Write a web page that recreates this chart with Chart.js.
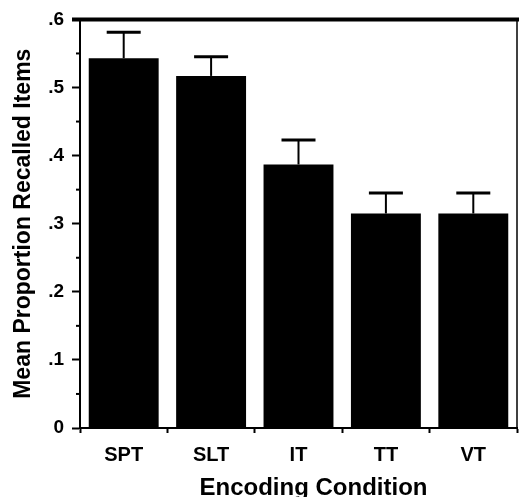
<!DOCTYPE html>
<html>
<head>
<meta charset="utf-8">
<script src="https://cdn.jsdelivr.net/npm/chart.js@4"></script>
<style>
  html, body { margin: 0; padding: 0; background: #fff; }
  #chart { display: block; }
</style>
</head>
<body>
<canvas id="chart" width="519" height="497"></canvas>
<script>
// datos
const conditions = ["SPT", "SLT", "IT", "TT", "VT"];
const meanRecall = [0.543, 0.517, 0.387, 0.315, 0.315];
const errorUp = [0.038, 0.028, 0.036, 0.030, 0.030];
const minorTicks = [0.05, 0.15, 0.25, 0.35, 0.45, 0.55];

const FONT = "'Liberation Sans', Arial, Helvetica, sans-serif";

// barras de error, ticks menores y marco
const extras = {
  id: "extras",
  afterDatasetsDraw(chart) {
    const ctx = chart.ctx;
    const x = chart.scales.x;
    const y = chart.scales.y;
    const area = chart.chartArea;
    ctx.save();
    ctx.strokeStyle = "#000";
    // barras de error (solo hacia arriba)
    meanRecall.forEach((v, i) => {
      const cx = x.getPixelForValue(i);
      const y0 = y.getPixelForValue(v);
      const y1 = y.getPixelForValue(v + errorUp[i]);
      ctx.lineWidth = 2;
      ctx.beginPath();
      ctx.moveTo(cx, y0);
      ctx.lineTo(cx, y1);
      ctx.stroke();
      ctx.lineWidth = 3;
      ctx.beginPath();
      ctx.moveTo(cx - 17, y1);
      ctx.lineTo(cx + 17, y1);
      ctx.stroke();
    });
    // ticks menores del eje y
    ctx.lineWidth = 2;
    minorTicks.forEach((t) => {
      const py = y.getPixelForValue(t);
      ctx.beginPath();
      ctx.moveTo(area.left - 4, py);
      ctx.lineTo(area.left, py);
      ctx.stroke();
    });
    // linea gruesa superior
    const top = y.getPixelForValue(0.6);
    ctx.lineWidth = 4;
    ctx.beginPath();
    ctx.moveTo(area.left - 8, top);
    ctx.lineTo(chart.width, top);
    ctx.stroke();
    // borde derecho
    ctx.lineWidth = 1.5;
    ctx.beginPath();
    ctx.moveTo(area.right, top);
    ctx.lineTo(area.right, area.bottom);
    ctx.stroke();
    // titulo eje x
    ctx.fillStyle = "#000";
    ctx.font = "bold 24px " + FONT;
    ctx.textAlign = "center";
    ctx.textBaseline = "alphabetic";
    ctx.fillText("Encoding Condition", (area.left + area.right) / 2 + 15, 495);
    ctx.restore();
  }
};

const config = {
  type: "bar",
  data: {
    labels: conditions,
    datasets: [
      {
        label: "Mean Proportion Recalled Items",
        data: meanRecall,
        backgroundColor: "#000",
        borderWidth: 0,
        barPercentage: 0.8,
        categoryPercentage: 1.0
      }
    ]
  },
  options: {
    responsive: false,
    animation: false,
    layout: { padding: { top: 17, right: 2, left: 0, bottom: 0 } },
    plugins: {
      legend: { display: false },
      tooltip: { enabled: false }
    },
    scales: {
      x: {
        offset: true,
        afterFit: (s) => { s.height = 69; },
        grid: {
          offset: true,
          drawOnChartArea: false,
          tickLength: 5,
          tickWidth: 2,
          tickColor: "#000"
        },
        border: { display: true, color: "#000", width: 2 },
        ticks: {
          color: "#000",
          padding: 10,
          font: { family: FONT, size: 20, weight: "bold" }
        }
      },
      y: {
        min: 0,
        max: 0.6,
        afterFit: (s) => { s.width = 80; },
        grid: {
          drawOnChartArea: false,
          tickLength: 8,
          tickWidth: 2,
          tickColor: "#000"
        },
        border: { display: true, color: "#000", width: 2 },
        ticks: {
          stepSize: 0.1,
          color: "#000",
          padding: 8,
          font: { family: FONT, size: 19, weight: "bold" },
          callback: (v) => {
            const n = Math.round(v * 10);
            return n === 0 ? "0" : "." + n;
          }
        },
        title: {
          display: true,
          text: "Mean Proportion Recalled Items",
          color: "#000",
          padding: { top: 10, bottom: 0 },
          font: { family: FONT, size: 23, weight: "bold" }
        }
      }
    }
  },
  plugins: [extras]
};

const myChart = new Chart(document.getElementById("chart"), config);
</script>
</body>
</html>
